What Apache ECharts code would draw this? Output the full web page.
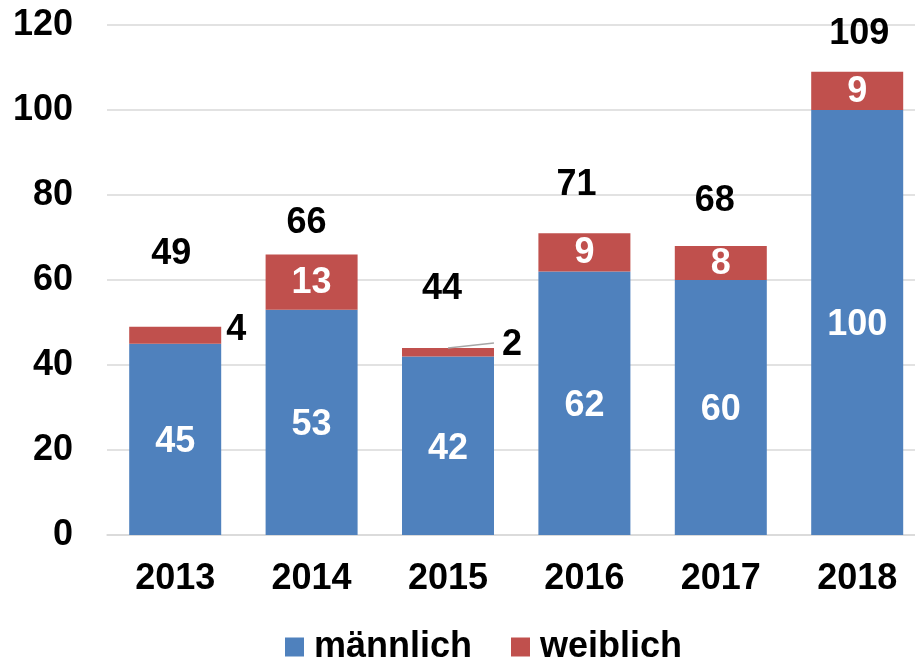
<!DOCTYPE html>
<html>
<head>
<meta charset="utf-8">
<script src="https://cdn.jsdelivr.net/npm/echarts@6/dist/echarts.min.js"></script>
<style>
html,body{margin:0;padding:0;background:#fff;overflow:hidden;}
#chart{width:926px;height:662px;}
</style>
</head>
<body>
<div id="chart"></div>
<script>
// Data
var years = ['2013', '2014', '2015', '2016', '2017', '2018'];
var maennlich = [45, 53, 42, 62, 60, 100];
var weiblich = [4, 13, 2, 9, 8, 9];
var totals = [49, 66, 44, 71, 68, 109];
var yTicks = [0, 20, 40, 60, 80, 100, 120];

// label placement (style only)
var totalOffsets = [[-4, -73], [-5, -31], [-6, -59], [-8, -48], [-6, -45], [2, -38]];
var leaderIndex = 2;          // year whose small female label has a leader line
var barHalfFrac = 0.337;      // half bar width as fraction of category band
var leaderRise = 1.2;         // rise of leader line in value units

var FONT = '"Liberation Sans", Arial, sans-serif';
var chart = echarts.init(document.getElementById('chart'), null, {renderer: 'canvas'});

var femaleData = weiblich.map(function (v, i) {
  var d = {value: v};
  if (v < 5) {
    d.label = {position: 'right', color: '#000', distance: (i === leaderIndex ? 8 : 5), offset: [0, (i === leaderIndex ? -7 : -5)]};
  }
  return d;
});

var totalData = totals.map(function (v, i) {
  return {value: v, label: {offset: totalOffsets[i]}};
});

var leaderData = [
  [leaderIndex + 0.5, totals[leaderIndex]],
  [leaderIndex + 0.5 + barHalfFrac, totals[leaderIndex] + leaderRise]
];

chart.setOption({
  animation: false,
  textStyle: {fontFamily: FONT},
  grid: {left: 107, width: 818.4, top: 25, height: 510},
  legend: {
    data: ['männlich', 'weiblich'],
    left: 280, top: 624,
    icon: 'rect', itemWidth: 19, itemHeight: 19, itemGap: 39,
    textStyle: {fontSize: 36, fontWeight: 'bold', color: '#000', fontFamily: FONT, padding: [0, 0, 0, 5]}
  },
  xAxis: [{
    type: 'category', data: years,
    axisLine: {lineStyle: {color: '#d9d9d9', width: 1.5}},
    axisTick: {show: false},
    axisLabel: {fontSize: 36, fontWeight: 'bold', color: '#000', fontFamily: FONT, margin: 26}
  }, {
    type: 'value', min: 0, max: years.length, show: false
  }],
  yAxis: {
    type: 'value', min: yTicks[0], max: yTicks[yTicks.length - 1], interval: yTicks[1] - yTicks[0],
    axisLine: {show: false}, axisTick: {show: false},
    splitLine: {lineStyle: {color: '#d9d9d9', width: 1.5}},
    axisLabel: {fontSize: 36, fontWeight: 'bold', color: '#000', fontFamily: FONT, margin: 34}
  },
  series: [
    {
      name: 'männlich', type: 'bar', stack: 'total', data: maennlich, barWidth: 92,
      itemStyle: {color: '#4f81bd'},
      label: {show: true, position: 'inside', offset: [0, 3], color: '#fff', fontSize: 36, fontWeight: 'bold', fontFamily: FONT}
    },
    {
      name: 'weiblich', type: 'bar', stack: 'total', data: femaleData, barWidth: 92,
      itemStyle: {color: '#c0504d'},
      label: {show: true, position: 'inside', offset: [0, 1], color: '#fff', fontSize: 36, fontWeight: 'bold', fontFamily: FONT}
    },
    {
      name: 'Gesamt', type: 'scatter', data: totalData, symbolSize: 0, silent: true,
      itemStyle: {opacity: 1},
      label: {show: true, position: 'inside', color: '#000', opacity: 1, fontSize: 36, fontWeight: 'bold', fontFamily: FONT}
    },
    {
      name: 'leader', type: 'line', xAxisIndex: 1, data: leaderData, silent: true,
      symbol: 'none', lineStyle: {color: '#a6a6a6', width: 1.5}, z: 5
    }
  ]
});
</script>
</body>
</html>
